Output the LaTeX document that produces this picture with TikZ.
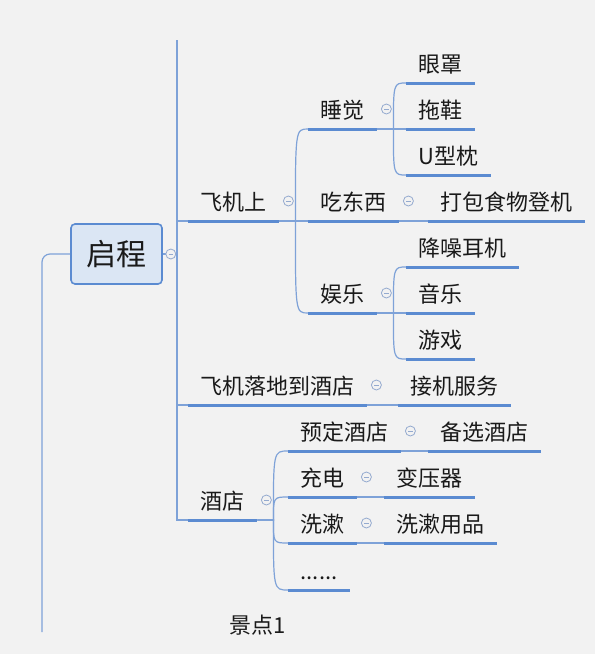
\documentclass[tikz,border=0pt]{standalone}
\usepackage{fontspec}
\newfontfamily\cjkfont{Noto Sans CJK SC}
\usetikzlibrary{calc}
\definecolor{bg}{HTML}{F2F2F2}
\definecolor{lineblue}{HTML}{5B8BD1}
\definecolor{linkblue}{HTML}{7EA2D8}
\definecolor{rootfill}{HTML}{DBE6F4}
\definecolor{foldgray}{HTML}{94AACF}
\definecolor{ink}{HTML}{1A1A1A}

% underline of a topic
\newcommand\topicline[1]{\draw[uline] (#1.south west) -- (#1.south east);}
% fold mark right of a topic
\newcommand\foldmark[1]{\node[fold] (#1-f) at ($(#1.south east)+(9,-20)$) {\rule{4.5pt}{0.8pt}};}
% curved link parent -> child
\newcommand\branch[2]{\draw[link] (#1.south east) -- ++(16,0) coordinate (#1-c)
  .. controls (#1-c |- #2.south west) .. (#2.south west);}

\begin{document}
\begin{tikzpicture}[x=1pt, y=-1pt,
  topic/.style={anchor=south west, inner xsep=12.5pt, inner ysep=0pt,
    text height=16pt, text depth=10.6pt,
    font=\cjkfont\fontsize{22}{24}\selectfont, text=ink},
  uline/.style={lineblue, line width=3pt},
  link/.style={linkblue, line width=1.2pt},
  fold/.style={circle, draw=foldgray, line width=0.8pt, fill=bg,
    minimum size=10pt, inner sep=0pt, text=foldgray},
  root/.style={draw=lineblue, line width=1.6pt, fill=rootfill,
    rounded corners=4pt, minimum width=91pt, minimum height=60pt,
    font=\cjkfont\fontsize{30}{32}\selectfont, text=ink}
]

%---------------------------------------
% Canvas
%---------------------------------------
\fill[bg] (0,0) rectangle (595,654);
\useasboundingbox (0,0) rectangle (595,654);

%---------------------------------------
% Root and trunk
%---------------------------------------
\node[root] (start) at (116.5,254) {启程};
\coordinate (trunk) at (177,254);
\coordinate (trunktop) at (177,40);
\coordinate (leftend) at (42,632);

%---------------------------------------
% Level 1
%---------------------------------------
\node[topic] (fjs) at (188,221) {飞机上};
\node[topic] (ld)  at (188,405) {飞机落地到酒店};
\node[topic] (jd)  at (188,520) {酒店};

%---------------------------------------
% On the plane
%---------------------------------------
\node[topic] (sj)   at (308,129) {睡觉};
\node[topic] (cdx)  at (308,221) {吃东西};
\node[topic] (yl)   at (308,313) {娱乐};
\node[topic] (dbsw) at (428,221) {打包食物登机};

\node[topic] (yz)   at (406,83)  {眼罩};
\node[topic] (tx)   at (406,129) {拖鞋};
\node[topic] (uzz)  at (406,175) {U型枕};
\node[topic] (jzej) at (406,267) {降噪耳机};
\node[topic] (yy)   at (406,313) {音乐};
\node[topic] (yx)   at (406,359) {游戏};

%---------------------------------------
% Landing and hotel
%---------------------------------------
\node[topic] (jjfw) at (398,405) {接机服务};

\node[topic] (ydjd) at (288,451) {预定酒店};
\node[topic] (cd)   at (288,497) {充电};
\node[topic] (xs)   at (288,543) {洗漱};
\node[topic] (more) at (288,590) {......};

\node[topic] (bxjd) at (428,451) {备选酒店};
\node[topic] (byq)  at (384,497) {变压器};
\node[topic] (xsyp) at (384,543) {洗漱用品};

\node[font=\cjkfont\fontsize{22}{24}\selectfont, text=ink] (jd1) at (258,625) {景点1};

%---------------------------------------
% Links
%---------------------------------------
\draw[link, rounded corners=8pt] (start.west) -| (leftend);
\draw[link] (start.east) -- (trunk);
\draw[link] (trunktop) |- (jd.south west);
\draw[link] (trunktop |- fjs.south west) -- (fjs.south west);
\draw[link] (trunktop |- ld.south west) -- (ld.south west);

\foreach \c in {sj,cdx,yl} {\branch{fjs}{\c}}
\foreach \c in {yz,tx,uzz} {\branch{sj}{\c}}
\foreach \c in {jzej,yy,yx} {\branch{yl}{\c}}
\foreach \c in {ydjd,cd,xs,more} {\branch{jd}{\c}}

\draw[link] (cdx.south east) -- (dbsw.south west);
\draw[link] (ld.south east) -- (jjfw.south west);
\draw[link] (ydjd.south east) -- (bxjd.south west);
\draw[link] (cd.south east) -- (byq.south west);
\draw[link] (xs.south east) -- (xsyp.south west);

%---------------------------------------
% Underlines and fold marks
%---------------------------------------
\foreach \t in {fjs,ld,jd,sj,cdx,yl,dbsw,yz,tx,uzz,jzej,yy,yx,
                jjfw,ydjd,cd,xs,more,bxjd,byq,xsyp} {\topicline{\t}}

\foreach \t in {fjs,ld,jd,sj,cdx,yl,ydjd,cd,xs} {\foldmark{\t}}
\node[fold] (start-f) at ($(start.east)+(8,0)$) {\rule{4.5pt}{0.8pt}};

\end{tikzpicture}
\end{document}
